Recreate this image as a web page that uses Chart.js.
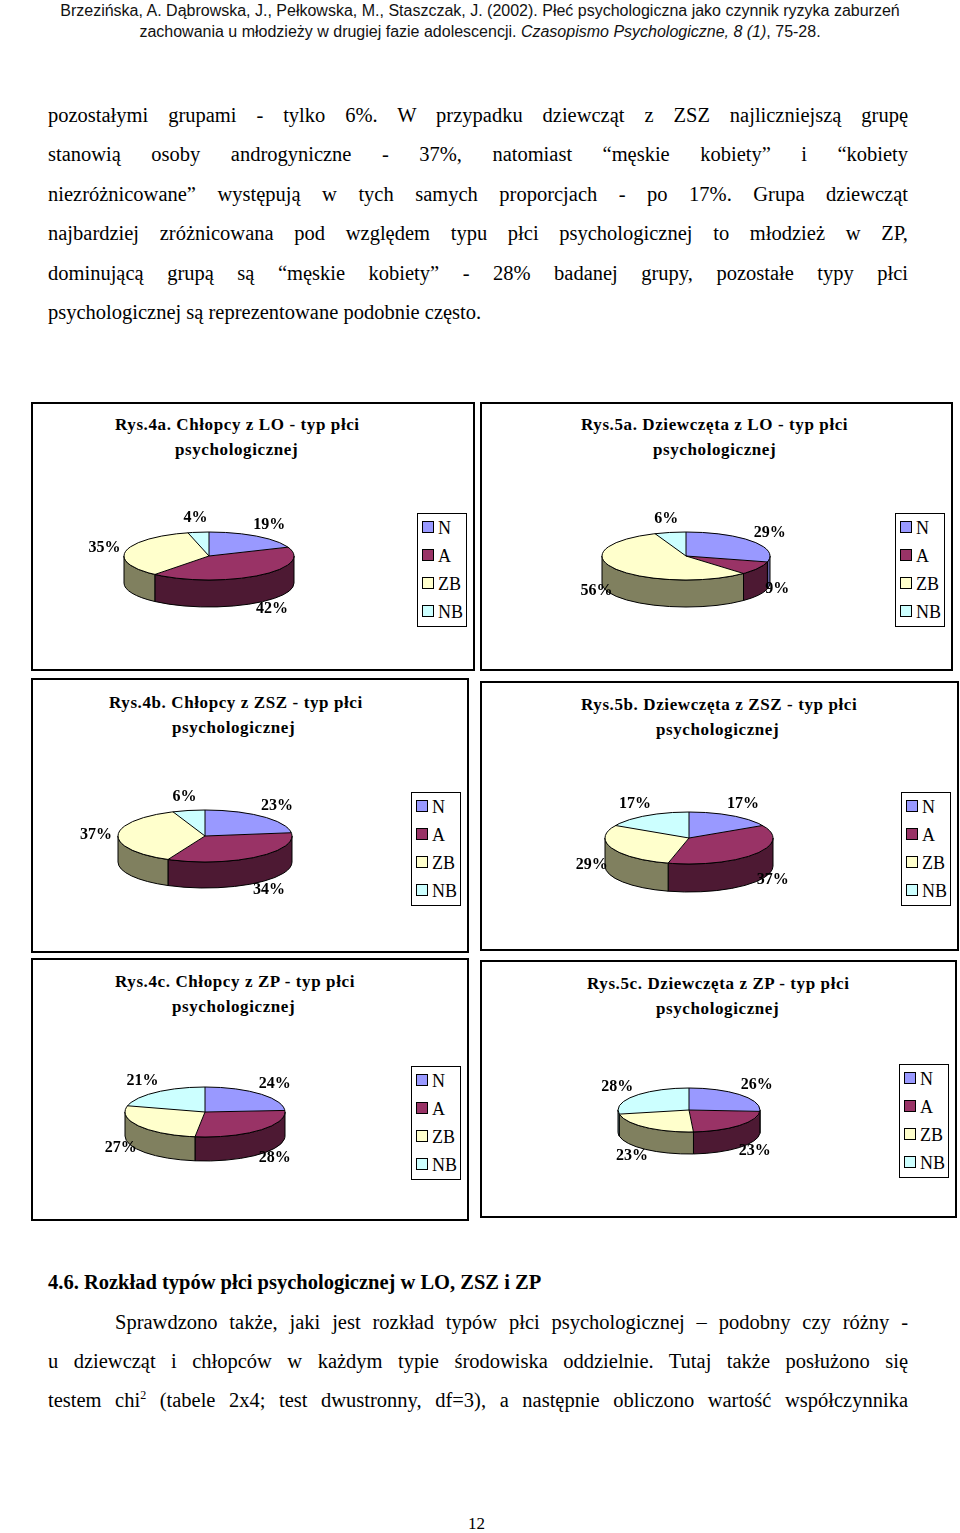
<!DOCTYPE html>
<html><head><meta charset="utf-8">
<script src="https://cdn.jsdelivr.net/npm/chart.js@4/dist/chart.umd.min.js"></script>
<style>
body{margin:0;width:960px;height:1533px;position:relative;background:#fff;font-family:"Liberation Serif",serif;color:#000}
.hdr{position:absolute;left:0;width:960px;text-align:center;font-family:"Liberation Sans",Arial,sans-serif;font-size:16px;color:#111}
.p{position:absolute;left:48px;width:860px;font-size:20.5px;text-align:justify;text-align-last:justify;line-height:39.4px}
.panel{position:absolute;border:2px solid #000;box-sizing:border-box}
.ttl{position:absolute;font-weight:bold;font-size:17px;letter-spacing:0.6px;line-height:25px}
.leg{position:absolute;border:1.5px solid #000;width:50px;height:114px;box-sizing:border-box;font-size:18px}
.leg div{position:absolute;left:4px;height:20px}
.leg span{display:inline-block;width:10px;height:10px;border:1px solid #000;margin-right:4px;vertical-align:1px}
canvas{position:absolute}
</style></head><body>
<div class="hdr" style="top:2px">Brzezińska, A. Dąbrowska, J., Pełkowska, M., Staszczak, J. (2002). Płeć psychologiczna jako czynnik ryzyka zaburzeń</div>
<div class="hdr" style="top:23px">zachowania u młodzieży w drugiej fazie adolescencji. <i>Czasopismo Psychologiczne, 8 (1)</i>, 75-28.</div>
<div class="p" style="top:96px">pozostałymi grupami - tylko 6%. W przypadku dziewcząt z ZSZ najliczniejszą grupę<br>stanowią osoby androgyniczne - 37%, natomiast “męskie kobiety” i “kobiety<br>niezróżnicowane” występują w tych samych proporcjach - po 17%. Grupa dziewcząt<br>najbardziej zróżnicowana pod względem typu płci psychologicznej to młodzież w ZP,<br>dominującą grupą są “męskie kobiety” - 28% badanej grupy, pozostałe typy płci</div>
<div class="p" style="top:293px;text-align-last:left">psychologicznej są reprezentowane podobnie często.</div>

<div class="panel" style="left:31px;top:402px;width:444px;height:269px"></div>
<div class="panel" style="left:480px;top:402px;width:473px;height:269px"></div>
<div class="panel" style="left:31px;top:678px;width:438px;height:275px"></div>
<div class="panel" style="left:480px;top:681px;width:479px;height:270px"></div>
<div class="panel" style="left:31px;top:958px;width:438px;height:263px"></div>
<div class="panel" style="left:480px;top:960px;width:477px;height:258px"></div>

<div class="ttl" style="left:115px;top:412px">Rys.4a. Chłopcy z LO - typ płci<br><span style="margin-left:60px">psychologicznej</span></div>
<div class="ttl" style="left:581px;top:412px">Rys.5a. Dziewczęta z LO - typ płci<br><span style="margin-left:72px">psychologicznej</span></div>
<div class="ttl" style="left:109px;top:690px">Rys.4b. Chłopcy z ZSZ - typ płci<br><span style="margin-left:63px">psychologicznej</span></div>
<div class="ttl" style="left:581px;top:692px">Rys.5b. Dziewczęta z ZSZ - typ płci<br><span style="margin-left:75px">psychologicznej</span></div>
<div class="ttl" style="left:115px;top:969px">Rys.4c. Chłopcy z ZP - typ płci<br><span style="margin-left:57px">psychologicznej</span></div>
<div class="ttl" style="left:587px;top:971px">Rys.5c. Dziewczęta z ZP - typ płci<br><span style="margin-left:69px">psychologicznej</span></div>

<div class="p" style="top:1263px;font-weight:bold;text-align-last:left">4.6. Rozkład typów płci psychologicznej w LO, ZSZ i ZP</div>
<div class="p" style="top:1303px;left:115px;width:793px">Sprawdzono także, jaki jest rozkład typów płci psychologicznej – podobny czy różny -</div>
<div class="p" style="top:1342px">u dziewcząt i chłopców w każdym typie środowiska oddzielnie. Tutaj także posłużono się</div>
<div class="p" style="top:1381px">testem chi<sup style="font-size:12px;line-height:0">2</sup> (tabele 2x4; test dwustronny, df=3), a następnie obliczono wartość współczynnika</div>
<div style="position:absolute;left:468px;top:1514px;font-size:17px">12</div>

<script>
const categories=['N','A','ZB','NB'];
const colors=['#9999FF','#993366','#FFFFCC','#CCFFFF'];
const sideColors=['#5c5c99','#4d1933','#80805f','#6b8a8a'];
const boys_LO=[19,42,35,4];
const girls_LO=[29,9,56,6];
const boys_ZSZ=[23,34,37,6];
const girls_ZSZ=[17,37,29,17];
const boys_ZP=[24,28,27,21];
const girls_ZP=[26,23,23,28];

const pies=[
 {data:boys_LO,cx:209,cy:556,rx:85,ry:24,d:27,leg:[417,513]},
 {data:girls_LO,cx:686,cy:556,rx:84,ry:24,d:27,leg:[895,513]},
 {data:boys_ZSZ,cx:205,cy:836,rx:87,ry:26,d:26,leg:[411,792]},
 {data:girls_ZSZ,cx:689,cy:838,rx:84,ry:26,d:28,leg:[901,792]},
 {data:boys_ZP,cx:205,cy:1112,rx:80,ry:25,d:24,leg:[411,1066]},
 {data:girls_ZP,cx:689,cy:1110,rx:71,ry:22,d:22,leg:[899,1064]}
];

const pie3d={id:'pie3d',
 beforeDatasetsDraw(chart){
  const o=chart.options.plugins.pie3d, ctx=chart.ctx, els=chart.getDatasetMeta(0).data;
  const cx=els[0].x, cy=els[0].y, r0=els[0].outerRadius;
  ctx.save();
  ctx.lineWidth=1; ctx.strokeStyle='#000';
  els.forEach((el,i)=>{
    const a=Math.max(el.startAngle,0), b=Math.min(el.endAngle,Math.PI);
    if(b<=a) return;
    ctx.beginPath();
    ctx.ellipse(cx,cy,o.rx,o.ry,0,a,b,false);
    ctx.lineTo(cx+o.rx*Math.cos(b),cy+o.ry*Math.sin(b)+o.d);
    ctx.ellipse(cx,cy+o.d,o.rx,o.ry,0,b,a,true);
    ctx.closePath();
    ctx.fillStyle=sideColors[i]; ctx.fill(); ctx.stroke();
  });
  ctx.save();
  ctx.translate(cx,cy); ctx.scale(o.rx/r0,o.ry/r0); ctx.translate(-cx,-cy);
 },
 afterDatasetsDraw(chart){
  const o=chart.options.plugins.pie3d, ctx=chart.ctx, els=chart.getDatasetMeta(0).data;
  ctx.restore();
  const cx=els[0].x, cy=els[0].y;
  ctx.lineWidth=1; ctx.strokeStyle='#000';
  ctx.beginPath(); ctx.ellipse(cx,cy,o.rx,o.ry,0,0,Math.PI*2); ctx.stroke();
  const vals=chart.data.datasets[0].data;
  ctx.font='bold 16px "Liberation Serif"'; ctx.fillStyle='#000'; ctx.textAlign='center'; ctx.textBaseline='middle';
  els.forEach((el,i)=>{
    const s=el.startAngle;
    ctx.beginPath(); ctx.moveTo(cx,cy); ctx.lineTo(cx+o.rx*Math.cos(s),cy+o.ry*Math.sin(s)); ctx.stroke();
    const m=(el.startAngle+el.endAngle)/2, c=Math.cos(m), sn=Math.sin(m);
    const x=cx+(o.rx+22)*c, y=cy+(o.ry+14)*sn+(sn>0?o.d*sn:0);
    ctx.fillText(vals[i]+'%',x,y);
  });
  ctx.restore();
 }
};

pies.forEach(p=>{
  const cv=document.createElement('canvas');
  cv.width=260; cv.height=140;
  cv.style.left=(p.cx-130)+'px'; cv.style.top=(p.cy-50)+'px';
  cv.style.width='260px'; cv.style.height='140px';
  document.body.appendChild(cv);
  new Chart(cv,{type:'pie',
    data:{labels:categories,datasets:[{data:p.data,backgroundColor:colors,borderWidth:0,clip:false}]},
    options:{responsive:false,animation:false,devicePixelRatio:1,layout:{padding:{bottom:40}},
      plugins:{legend:{display:false},tooltip:{enabled:false},pie3d:{rx:p.rx,ry:p.ry,d:p.d}}},
    plugins:[pie3d]});
  const lg=document.createElement('div'); lg.className='leg';
  lg.style.left=p.leg[0]+'px'; lg.style.top=p.leg[1]+'px';
  categories.forEach((c,i)=>{const d=document.createElement('div'); d.style.top=(4+i*28)+'px';
    d.innerHTML='<span style="background:'+colors[i]+'"></span>'+c; lg.appendChild(d);});
  document.body.appendChild(lg);
});
</script>
</body></html>
